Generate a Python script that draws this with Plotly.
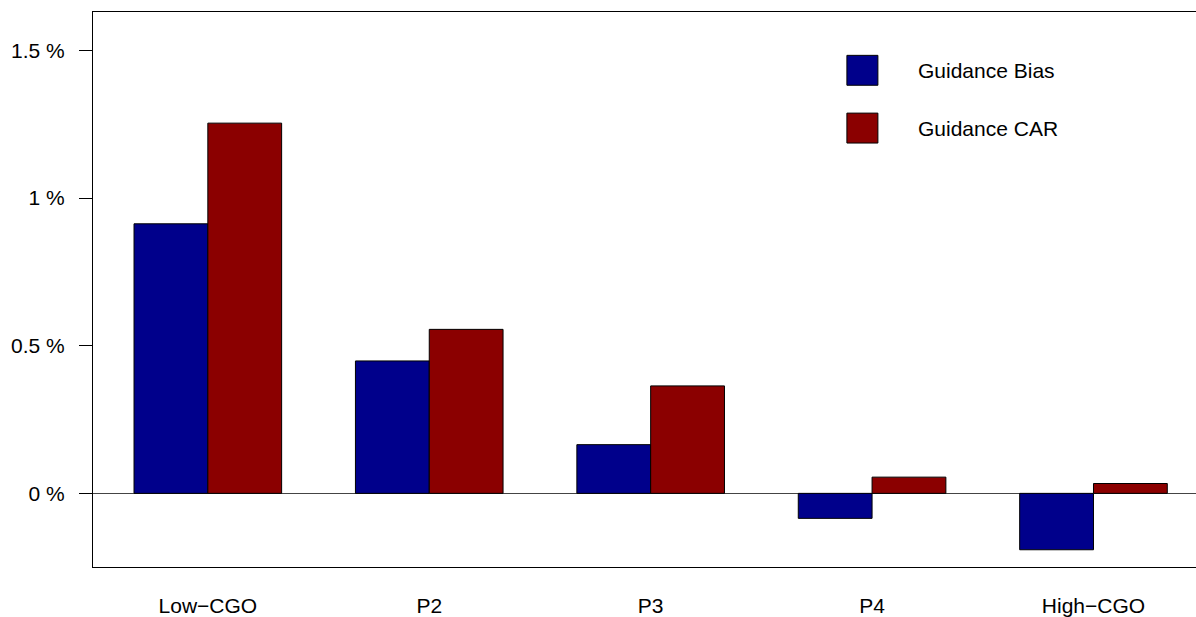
import plotly.graph_objects as go

categories = ["Low\u2212CGO", "P2", "P3", "P4", "High\u2212CGO"]
guidance_bias = [0.913, 0.4485, 0.165, -0.0847, -0.191]
guidance_car = [1.254, 0.5555, 0.364, 0.055, 0.0334]
series_names = ["Guidance Bias", "Guidance CAR"]
y_tick_vals = [0, 0.5, 1, 1.5]
y_tick_text = ["0 %", "0.5 %", "1 %", "1.5 %"]

BLUE = "#00008B"
RED = "#8B0000"
FONT = "Liberation Sans, Arial, Helvetica, sans-serif"
FS = 21

n = len(categories)
# R barplot style positions: group i occupies units [3i+1, 3i+3]
x_blue = [3 * i + 1.5 for i in range(n)]
x_red = [3 * i + 2.5 for i in range(n)]
x_center = [3 * i + 2 for i in range(n)]

fig = go.Figure()
fig.add_trace(go.Bar(x=x_blue, y=guidance_bias, width=1, name=series_names[0],
                     marker=dict(color=BLUE, line=dict(color="black", width=1))))
fig.add_trace(go.Bar(x=x_red, y=guidance_car, width=1, name=series_names[1],
                     marker=dict(color=RED, line=dict(color="black", width=1))))

# legend drawn as boxes + text (R-style legend)
leg_y = [(0.9219, 0.8680), (0.8178, 0.7639)]
for (y1, y0), col, name in zip(leg_y, [BLUE, RED], series_names):
    fig.add_shape(type="rect", xref="x domain", yref="y domain",
                  x0=0.6835, x1=0.7116, y0=y0, y1=y1,
                  fillcolor=col, line=dict(color="black", width=1))
    fig.add_annotation(xref="x domain", yref="y domain", x=0.7459, y=(y0 + y1) / 2,
                       text=name, showarrow=False, xanchor="left", yanchor="middle",
                       font=dict(size=FS, color="black", family=FONT))

fig.update_layout(
    width=1196, height=617,
    margin=dict(l=93, r=0, t=12, b=47),
    paper_bgcolor="white", plot_bgcolor="white",
    showlegend=False, barmode="overlay",
    font=dict(family=FONT, size=FS, color="black"),
)
fig.update_xaxes(range=[0.444, 15.389], tickvals=x_center, ticktext=categories,
                 ticks="", showgrid=False, zeroline=False,
                 showline=True, linecolor="black", linewidth=1, mirror=True,
                 ticklabelstandoff=20, tickfont=dict(size=FS, family=FONT))
fig.update_yaxes(range=[-0.2494, 1.6304], tickvals=y_tick_vals, ticktext=y_tick_text,
                 ticks="outside", ticklen=13, tickcolor="black", tickwidth=1,
                 showgrid=False, zeroline=True, zerolinecolor="#444", zerolinewidth=1,
                 showline=True, linecolor="black", linewidth=1, mirror=False,
                 ticklabelstandoff=10, tickfont=dict(size=FS, family=FONT))

fig.write_html("out.html", config={"displayModeBar": False})
with open("out.html", "r", encoding="utf-8") as f:
    html = f.read()
html = html.replace("<head>", "<head><style>html,body{margin:0;padding:0;overflow:hidden;}</style>", 1)
with open("out.html", "w", encoding="utf-8") as f:
    f.write(html)
